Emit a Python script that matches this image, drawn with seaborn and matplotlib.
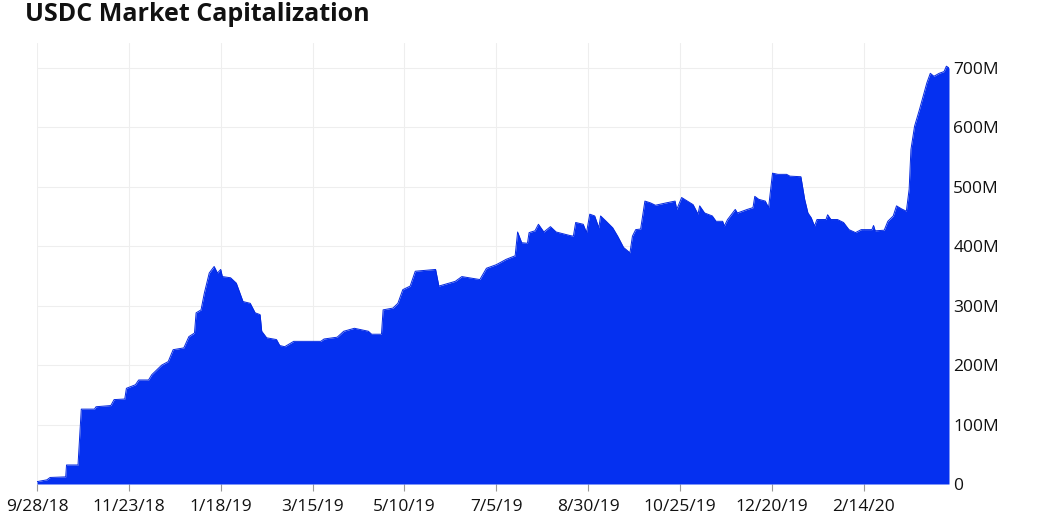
import matplotlib
matplotlib.use("Agg")
import matplotlib.pyplot as plt
import numpy as np
import pandas as pd
import seaborn as sns

# ---- data ----
start_date = "2018-09-28"
days = [0, 6, 8, 17.5, 18, 25, 27, 35, 36, 45, 47, 53.5, 54.5, 60, 62, 68, 70, 76, 80,
        83, 89.5, 92.6, 96, 97, 100, 102, 105, 108, 110, 112, 113, 118, 121.5, 125.6,
        130, 133, 136, 137, 140, 146, 148, 151, 156.5, 173, 175, 183, 187, 193.5, 202,
        204, 210, 211, 217, 220, 223, 227.5, 230.6, 243, 245, 255, 259, 270, 274, 280,
        286, 291.5, 293, 295.5, 299, 300, 303.6, 305.7, 309, 313, 316.5, 325, 327, 328.4,
        333, 335, 337, 340, 342.5, 343.6, 347, 351, 354, 357.6, 361.5, 363, 365, 368,
        370.6, 374, 377, 383.6, 389, 390, 393, 396.5, 400, 403, 404, 407, 411.7, 414,
        418, 419, 421, 425.7, 427, 433, 436.5, 437.6, 440, 444, 446, 448.4, 451.7, 457,
        459, 465.7, 468, 470, 472, 474, 475.5, 481, 482, 484, 488, 491.7, 495, 499,
        502.5, 509, 510, 511, 516.5, 518.7, 522, 524, 527, 530, 531.7, 532.8, 535, 538,
        540, 542.5, 544.6, 546.8, 550, 553, 554.4, 556]
market_cap_m = [4, 7, 11, 12, 32, 32, 126, 126, 130, 132, 142, 143, 161, 167, 175, 175, 184,
                200, 206, 226, 229, 248, 254, 288, 293, 321, 355, 366, 355, 361, 349, 347,
                338, 307, 304, 288, 285, 257, 246, 243, 233, 231, 240, 240, 244, 247, 257,
                262, 257, 252, 252, 293, 296, 304, 327, 333, 358, 361, 333, 341, 349, 344,
                363, 369, 378, 384, 424, 406, 405, 423, 426, 437, 424, 433, 424, 418, 417,
                440, 437, 423, 454, 451, 431, 451, 442, 431, 417, 398, 389, 417, 428, 429,
                476, 473, 469, 473, 476, 462, 482, 476, 470, 454, 468, 456, 451, 442, 442,
                434, 445, 462, 456, 462, 465, 484, 479, 476, 465, 523, 521, 521, 518, 517,
                479, 456, 448, 434, 445, 445, 453, 445, 445, 440, 428, 423, 428, 428, 435,
                426, 427, 442, 451, 468, 463, 459, 496, 563, 602, 630, 650, 675, 691, 686,
                691, 694, 703, 700]
tick_labels_x = ["9/28/18", "11/23/18", "1/18/19", "3/15/19", "5/10/19", "7/5/19",
                 "8/30/19", "10/25/19", "12/20/19", "2/14/20"]
y_ticks_m = [0, 100, 200, 300, 400, 500, 600, 700]
y_tick_labels = ["0", "100M", "200M", "300M", "400M", "500M", "600M", "700M"]
title = "USDC Market Capitalization"

df = pd.DataFrame({
    "date": pd.to_datetime(start_date) + pd.to_timedelta(days, unit="D"),
    "cap": np.array(market_cap_m) * 1e6,
})

sns.set_theme(style="white")
plt.rcParams["font.family"] = ["Open Sans", "DejaVu Sans"]

W, H = 1057, 514
fig = plt.figure(figsize=(W / 100, H / 100), dpi=100)
ax = fig.add_axes([37 / W, 1 - 484 / H, (949 - 37) / W, (484 - 43) / H])

blue = "#0530F0"
ax.fill_between(df["date"], 0, df["cap"], color=blue, linewidth=0, zorder=3)
sns.lineplot(data=df, x="date", y="cap", ax=ax, color="#0428E0", linewidth=0.7, zorder=4)

ax.set_xlim(df["date"].iloc[0], df["date"].iloc[-1])
ax.set_ylim(0, 742e6)

xt = pd.to_datetime(tick_labels_x, format="%m/%d/%y")
ax.set_xticks(xt)
ax.set_xticklabels(tick_labels_x, fontsize=12.5, color="#111111")
ax.set_yticks(np.array(y_ticks_m) * 1e6)
ax.set_yticklabels(y_tick_labels, fontsize=12.5, color="#111111")
ax.yaxis.tick_right()
ax.tick_params(axis="y", length=0, pad=3)
ax.tick_params(axis="x", length=5, width=0.8, color="#999999", pad=6, bottom=True)

ax.grid(True, color="#eeeeee", linewidth=0.8, zorder=0)
ax.set_axisbelow(True)
for s in ax.spines.values():
    s.set_visible(False)
ax.set_xlabel("")
ax.set_ylabel("")

fig.text(25 / W, 1 - 2 / H, title, fontsize=18, fontweight="bold", va="top",
         ha="left", color="#111111")

fig.savefig("out.png", dpi=100, facecolor="white")
